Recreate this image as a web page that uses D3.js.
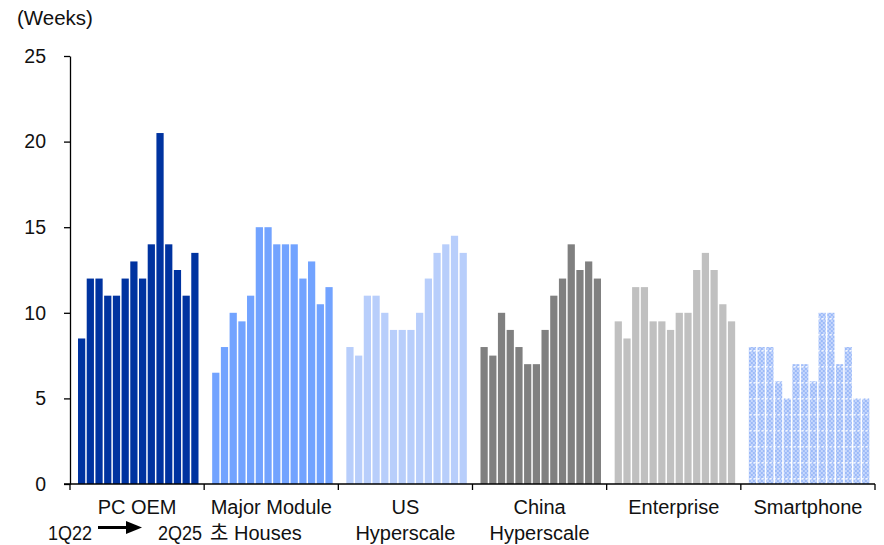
<!DOCTYPE html>
<html>
<head>
<meta charset="utf-8">
<script src="https://cdn.jsdelivr.net/npm/d3@7"></script>
<style>
    html, body { margin: 0; padding: 0; background: #fff; }
    svg text { font-family: "Liberation Sans", Arial, sans-serif; fill: #111; }
</style>
</head>
<body>
<svg id="chart" width="884" height="545"></svg>
<script>
// 分组（第一行 / 第二行标签）
const categories = ['PC OEM', 'Major Module', 'US', 'China', 'Enterprise', 'Smartphone'];
const categoryLine2 = ['', '', 'Hyperscale', 'Hyperscale', '', ''];

// 季度 1Q22 -> 2Q25
const quarters = ['1Q22', '2Q22', '3Q22', '4Q22', '1Q23', '2Q23', '3Q23', '4Q23',
    '1Q24', '2Q24', '3Q24', '4Q24', '1Q25', '2Q25'];

// 库存周数
const pcOem = [8.5, 12, 12, 11, 11, 12, 13, 12, 14, 20.5, 14, 12.5, 11, 13.5];
const moduleHouses = [6.5, 8, 10, 9.5, 11, 15, 15, 14, 14, 14, 12, 13, 10.5, 11.5];
const usHyperscale = [8, 7.5, 11, 11, 10, 9, 9, 9, 10, 12, 13.5, 14, 14.5, 13.5];
const chinaHyperscale = [8, 7.5, 10, 9, 8, 7, 7, 9, 11, 12, 14, 12.5, 13, 12];
const enterprise = [9.5, 8.5, 11.5, 11.5, 9.5, 9.5, 9, 10, 10, 12.5, 13.5, 12.5, 10.5, 9.5];
const smartphone = [8, 8, 8, 6, 5, 7, 7, 6, 10, 10, 7, 8, 5, 5];

const seriesValues = [pcOem, moduleHouses, usHyperscale, chinaHyperscale, enterprise, smartphone];
const yTicks = [0, 5, 10, 15, 20, 25];

const colors = ['#0033a0', '#72a3ff', '#b8cefb', '#808080', '#c0c0c0', 'url(#dotFill)'];

function drawChart() {
    const svg = d3.select('#chart');

    // 智能手机的点状填充
    const defs = svg.append('defs');
    const pat = defs.append('pattern')
        .attr('id', 'dotFill')
        .attr('patternUnits', 'userSpaceOnUse')
        .attr('width', 4)
        .attr('height', 16);
    pat.append('rect').attr('width', 4).attr('height', 16).attr('fill', '#c6d7fc');
    for (let y = 0; y < 14; y += 4) {
        pat.append('rect').attr('x', 0).attr('y', y).attr('width', 2).attr('height', 2).attr('fill', '#9cbaf8');
        pat.append('rect').attr('x', 2).attr('y', y + 2).attr('width', 2).attr('height', 2).attr('fill', '#9cbaf8');
    }
    pat.append('rect').attr('x', 1).attr('y', 14).attr('width', 2).attr('height', 1.5).attr('fill', '#ffffff').attr('opacity', 0.8);

    const y = d3.scaleLinear().domain([0, 25]).range([484, 56]);
    const x = d3.scaleBand().domain(categories).range([70, 875]).padding(0);
    const inner = d3.scaleBand().domain(quarters).range([8, 128.5]).paddingInner(0.17).paddingOuter(0);

    // 柱子
    categories.forEach((cat, gi) => {
        const g = svg.append('g').attr('transform', `translate(${x(cat)},0)`);
        g.selectAll('rect')
            .data(seriesValues[gi])
            .join('rect')
            .attr('x', (d, i) => inner(quarters[i]))
            .attr('width', inner.bandwidth())
            .attr('y', d => y(d))
            .attr('height', d => y(0) - y(d))
            .attr('fill', colors[gi]);
    });

    // Y 轴
    const yAxis = svg.append('g')
        .attr('transform', 'translate(70,0)')
        .call(d3.axisLeft(y).tickValues(yTicks).tickSize(6).tickPadding(18).tickSizeOuter(0));
    yAxis.select('.domain').attr('stroke', '#000').attr('stroke-width', 1.3);
    yAxis.selectAll('.tick line').attr('stroke', '#000').attr('stroke-width', 1.3);
    yAxis.selectAll('.tick text').attr('font-size', '19.5px').attr('fill', '#111')
        .style('font-family', '"Liberation Sans", Arial, sans-serif');

    // X 轴
    const edges = categories.map(c => x(c)).concat([875]);
    svg.append('line')
        .attr('x1', 64).attr('x2', 875)
        .attr('y1', y(0)).attr('y2', y(0))
        .attr('stroke', '#000').attr('stroke-width', 1.3);
    svg.selectAll('.xtick')
        .data(edges)
        .join('line')
        .attr('class', 'xtick')
        .attr('x1', d => d).attr('x2', d => d)
        .attr('y1', y(0)).attr('y2', y(0) + 6)
        .attr('stroke', '#000').attr('stroke-width', 1.3);

    // 分类标签
    svg.selectAll('.cat1')
        .data(categories)
        .join('text')
        .attr('class', 'cat1')
        .attr('x', d => x(d) + x.bandwidth() / 2)
        .attr('y', 514)
        .attr('text-anchor', 'middle')
        .attr('font-size', '20px')
        .text(d => d);
    svg.selectAll('.cat2')
        .data(categories.filter((c, i) => categoryLine2[i]))
        .join('text')
        .attr('class', 'cat2')
        .attr('x', d => x(d) + x.bandwidth() / 2)
        .attr('y', 540)
        .attr('text-anchor', 'middle')
        .attr('font-size', '20px')
        .text(d => categoryLine2[categories.indexOf(d)]);

    // Major Module 第二行
    svg.append('text').attr('x', 210).attr('y', 540).attr('font-size', '20px').text('초 Houses')
        .style('font-family', '"Liberation Sans", "Noto Sans CJK KR", sans-serif');

    // 1Q22 -> 2Q25 注释
    svg.append('text').attr('x', 48).attr('y', 540).attr('font-size', '20px')
        .attr('textLength', 44).attr('lengthAdjust', 'spacingAndGlyphs').text(quarters[0]);
    svg.append('text').attr('x', 158).attr('y', 540).attr('font-size', '20px')
        .attr('textLength', 44).attr('lengthAdjust', 'spacingAndGlyphs').text(quarters[quarters.length - 1]);
    svg.append('line')
        .attr('x1', 98).attr('x2', 128)
        .attr('y1', 527.5).attr('y2', 527.5)
        .attr('stroke', '#000').attr('stroke-width', 3);
    svg.append('path')
        .attr('d', 'M126,521 L142,527.5 L126,534 Z')
        .attr('fill', '#000');

    // 单位
    svg.append('text').attr('x', 17).attr('y', 25).attr('font-size', '20.5px').text('(Weeks)');
}

drawChart();
</script>
</body>
</html>
